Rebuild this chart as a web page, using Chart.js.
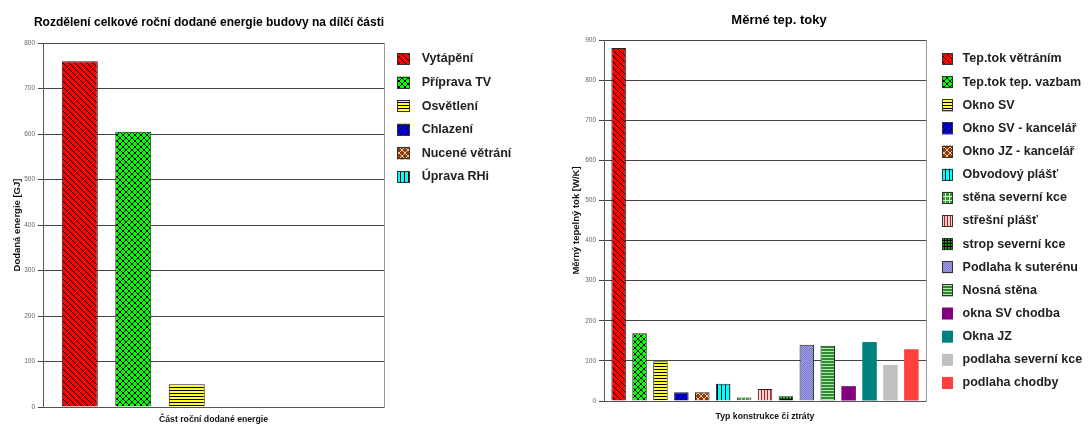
<!DOCTYPE html>
<html>
<head>
<meta charset="utf-8">
<script src="https://cdn.jsdelivr.net/npm/chart.js@4.4.1/dist/chart.umd.min.js"></script>
<style>
  html, body { margin: 0; padding: 0; background: #fff; overflow: hidden; }
  #energyChart { position: absolute; left: 0; top: 0; }
  #flowChart { position: absolute; left: 545px; top: 0; }
</style>
</head>
<body>
<canvas id="energyChart" width="530" height="425"></canvas>
<canvas id="flowChart" width="544" height="425"></canvas>
<script>
// levy graf - dodana energie [GJ]
const energyLabels = ['Vytápění', 'Příprava TV', 'Osvětlení', 'Chlazení', 'Nucené větrání', 'Úprava RHi'];
const energyValues = [760, 605, 50, 0, 0, 0];
const energyMax = 800;

// pravy graf - merne tepelne toky [W/K]
const flowLabels = ['Tep.tok větráním', 'Tep.tok tep. vazbam', 'Okno SV', 'Okno SV - kancelář',
  'Okno JZ - kancelář', 'Obvodový plášť', 'stěna severní kce', 'střešní plášť', 'strop severní kce',
  'Podlaha k suterénu', 'Nosná stěna', 'okna SV chodba', 'Okna JZ', 'podlaha severní kce', 'podlaha chodby'];
const flowValues = [880, 169, 99, 22, 22, 43, 9, 30, 12, 140, 138, 37, 147, 90, 129];
const flowMax = 900;

const tickStep = 100;
const FONT = "'Liberation Sans', Arial, sans-serif";

// excel-like hatch fills
function makeFill(bg, fg, kind, size) {
  const c = document.createElement('canvas');
  c.width = size;
  c.height = size;
  const g = c.getContext('2d');
  g.fillStyle = bg;
  g.fillRect(0, 0, size, size);
  g.fillStyle = fg;
  for (let i = 0; i < size; i++) {
    if (kind === 'down') g.fillRect(i, i, 1, 1);
    if (kind === 'up') g.fillRect(size - 1 - i, i, 1, 1);
    if (kind === 'cross') { g.fillRect(i, i, 1, 1); g.fillRect(size - 1 - i, i, 1, 1); }
    if (kind === 'rows') g.fillRect(i, 0, 1, 1);
    if (kind === 'cols') g.fillRect(0, i, 1, 1);
    if (kind === 'grid') { g.fillRect(i, 0, 1, 1); g.fillRect(0, i, 1, 1); }
  }
  if (kind === 'checker') { g.fillRect(0, 0, 1, 1); g.fillRect(1, 1, 1, 1); }
  return g.createPattern(c, 'repeat');
}

const red = makeFill('#ff0000', '#000', 'down', 6);
const green = makeFill('#00ff00', '#000', 'cross', 6);
const yellow = makeFill('#ffff33', '#000', 'rows', 3);
const blue = makeFill('#0000ee', '#000', 'up', 5);
const brown = makeFill('#8f3a10', '#f0c890', 'cross', 6);
const cyan = makeFill('#00ffff', '#000', 'cols', 4);

const energyFills = [red, green, yellow, blue, brown, cyan];
const flowFills = [red, green, yellow, blue, brown, cyan,
  makeFill('#339933', '#ccffcc', 'grid', 4),
  makeFill('#f4d4d4', '#b02020', 'cols', 3),
  makeFill('#00aa00', '#000', 'grid', 3),
  makeFill('#8080cc', '#9a9ade', 'checker', 2),
  makeFill('#2e8b2e', '#b0e8b0', 'rows', 3),
  '#800080', '#008080', '#c0c0c0', '#ff4040'];

// legenda vpravo od grafu
const sideLegend = {
  id: 'sideLegend',
  afterDraw(chart, args, o) {
    const ctx = chart.ctx;
    const a = chart.chartArea;
    ctx.save();
    ctx.font = 'bold 12.5px ' + FONT;
    ctx.textBaseline = 'middle';
    ctx.textAlign = 'left';
    chart.data.datasets.forEach((ds, i) => {
      const cy = a.top + o.top + i * o.step;
      const x = a.right + o.dx;
      ctx.fillStyle = ds.backgroundColor;
      ctx.fillRect(x, cy - o.h / 2, o.w, o.h);
      if (ds.borderWidth) {
        ctx.strokeStyle = '#333';
        ctx.lineWidth = 1;
        ctx.strokeRect(x + 0.5, Math.round(cy - o.h / 2) + 0.5, o.w - 1, o.h - 1);
      }
      ctx.fillStyle = '#222';
      ctx.fillText(ds.label, x + o.textDx, cy);
    });
    ctx.restore();
  }
};

function makeChart(id, p) {
  const datasets = p.labels.map((label, i) => ({
    label: label,
    data: [p.values[i]],
    backgroundColor: p.fills[i],
    borderColor: '#222',
    borderWidth: typeof p.fills[i] === 'string' ? 0 : 1
  }));
  return new Chart(document.getElementById(id), {
    type: 'bar',
    data: { labels: [''], datasets: datasets },
    plugins: [sideLegend],
    options: {
      responsive: false,
      animation: false,
      events: [],
      layout: { padding: { left: 0, right: p.padRight, top: 0, bottom: 0 } },
      datasets: { bar: { categoryPercentage: p.catPct, barPercentage: p.barPct } },
      plugins: {
        legend: { display: false },
        tooltip: { enabled: false },
        title: {
          display: true,
          text: p.title,
          color: '#000',
          font: { family: FONT, size: p.titleSize, weight: 'bold' },
          padding: p.titlePad
        },
        sideLegend: p.legend
      },
      scales: {
        x: {
          grid: { display: false, drawTicks: false },
          border: { display: true, color: '#555' },
          ticks: { display: false },
          title: {
            display: true,
            text: p.xTitle,
            color: '#111',
            font: { family: FONT, size: 8.7, weight: 'bold' },
            padding: { top: 0, bottom: p.xTitleBottom }
          },
          afterFit: s => { s.height = p.xHeight; }
        },
        y: {
          min: 0,
          max: p.max,
          ticks: {
            stepSize: tickStep,
            color: '#666',
            padding: 3,
            font: { family: FONT, size: 6.5 }
          },
          grid: { color: '#444', lineWidth: 1, tickLength: 5 },
          border: { color: '#555' },
          title: {
            display: true,
            text: p.yTitle,
            color: '#111',
            font: { family: FONT, size: 9.5, weight: 'bold' },
            padding: { top: p.yTitleLeft, bottom: 0 }
          },
          afterFit: s => { s.width = p.yWidth; }
        },
        y2: {
          position: 'right',
          grid: { display: false, drawTicks: false },
          ticks: { display: false },
          border: { display: true, color: '#999' },
          afterFit: s => { s.width = p.gapRight; }
        }
      }
    }
  });
}

makeChart('energyChart', {
  labels: energyLabels,
  values: energyValues,
  fills: energyFills,
  max: energyMax,
  title: 'Rozdělení celkové roční dodané energie budovy na dílčí části',
  titleSize: 12,
  xTitle: 'Část roční dodané energie',
  yTitle: 'Dodaná energie [GJ]',
  titlePad: { top: 15.8, bottom: 12.8 },
  padRight: 112,
  gapRight: 34,
  yWidth: 43,
  yTitleLeft: 11.3,
  xHeight: 18,
  xTitleBottom: 0,
  catPct: 0.941,
  barPct: 0.673,
  legend: { dx: 13, top: 16, step: 23.6, w: 13, h: 12, textDx: 24.7 }
});

makeChart('flowChart', {
  labels: flowLabels,
  values: flowValues,
  fills: flowFills,
  max: flowMax,
  title: 'Měrné tep. toky',
  titleSize: 13,
  xTitle: 'Typ konstrukce či ztráty',
  yTitle: 'Měrný tepelný tok [W/K]',
  titlePad: { top: 12.7, bottom: 11.7 },
  padRight: 76,
  gapRight: 87,
  yWidth: 59,
  yTitleLeft: 25.3,
  xHeight: 24,
  xTitleBottom: 2.8,
  catPct: 0.974,
  barPct: 0.694,
  legend: { dx: 16, top: 19, step: 23.14, w: 11, h: 12, textDx: 20.6 }
});
</script>
</body>
</html>
